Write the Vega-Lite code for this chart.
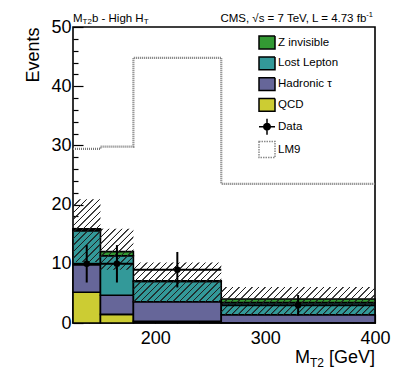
{
 "$schema": "https://vega.github.io/schema/vega-lite/v6.json",
 "width": 302, "height": 296,
 "autosize": {"type": "none"},
 "padding": {"left": 73, "top": 27, "right": 32, "bottom": 68},
 "config": {
  "view": {"stroke": "#000", "strokeWidth": 1.6},
  "font": "Liberation Sans",
  "axis": {"grid": false, "domain": false, "tickColor": "#000", "labelColor": "#000", "titleColor": "#000", "labelFont": "Liberation Sans", "titleFont": "Liberation Sans"},
  "legend": {"padding": 0, "symbolSize": 256, "symbolStrokeWidth": 1.5, "labelFont": "Liberation Sans", "labelFontSize": 11.5, "labelColor": "#000", "labelOffset": 2, "rowPadding": 0.8}
 },
 "datasets": {
  "stack": [
   {"lo": 125, "hi": 150, "series": "QCD", "ord": 1, "n": 5.2},
   {"lo": 125, "hi": 150, "series": "Hadronic τ", "ord": 2, "n": 4.65},
   {"lo": 125, "hi": 150, "series": "Lost Lepton", "ord": 3, "n": 5.75},
   {"lo": 125, "hi": 150, "series": "Z invisible", "ord": 4, "n": 0.3},
   {"lo": 150, "hi": 180, "series": "QCD", "ord": 1, "n": 1.45},
   {"lo": 150, "hi": 180, "series": "Hadronic τ", "ord": 2, "n": 3.25},
   {"lo": 150, "hi": 180, "series": "Lost Lepton", "ord": 3, "n": 6.65},
   {"lo": 150, "hi": 180, "series": "Z invisible", "ord": 4, "n": 0.7},
   {"lo": 180, "hi": 260, "series": "QCD", "ord": 1, "n": 0.27},
   {"lo": 180, "hi": 260, "series": "Hadronic τ", "ord": 2, "n": 3.33},
   {"lo": 180, "hi": 260, "series": "Lost Lepton", "ord": 3, "n": 3.4},
   {"lo": 180, "hi": 260, "series": "Z invisible", "ord": 4, "n": 0.12},
   {"lo": 260, "hi": 400, "series": "QCD", "ord": 1, "n": 0.03},
   {"lo": 260, "hi": 400, "series": "Hadronic τ", "ord": 2, "n": 1.37},
   {"lo": 260, "hi": 400, "series": "Lost Lepton", "ord": 3, "n": 2.05},
   {"lo": 260, "hi": 400, "series": "Z invisible", "ord": 4, "n": 0.6}
  ],
  "band": [
   {"lo": 125, "hi": 150, "down": 10.3, "up": 20.9},
   {"lo": 150, "hi": 180, "down": 9.0, "up": 15.9},
   {"lo": 180, "hi": 260, "down": 3.6, "up": 10.2},
   {"lo": 260, "hi": 400, "down": 1.4, "up": 6.1}
  ],
  "obs": [
   {"lo": 125, "hi": 150, "x": 137.5, "n": 10, "elo": 6.84, "ehi": 13.16},
   {"lo": 150, "hi": 180, "x": 165, "n": 10, "elo": 6.84, "ehi": 13.16},
   {"lo": 180, "hi": 260, "x": 220, "n": 9, "elo": 6, "ehi": 12},
   {"lo": 260, "hi": 400, "x": 330, "n": 3, "elo": 1.27, "ehi": 4.73}
  ],
  "lm9": [
   {"x": 125, "n": 29.4},
   {"x": 150, "n": 29.8},
   {"x": 180, "n": 44.8},
   {"x": 260, "n": 23.5},
   {"x": 400, "n": 23.5}
  ],
  "keys": [
   {"series": "Z invisible"}, {"series": "Lost Lepton"}, {"series": "Hadronic τ"}, {"series": "QCD"}, {"series": "Data"}, {"series": "LM9"}
  ]
 },
 "resolve": {"axis": {"x": "independent", "y": "independent"}},
 "layer": [
  {
   "data": {"name": "stack"},
   "transform": [{"stack": "n", "groupby": ["lo"], "sort": [{"field": "ord", "order": "ascending"}], "as": ["y0", "y1"]}],
   "mark": {"type": "rect", "stroke": "#000", "strokeWidth": 1.6},
   "encoding": {
    "x": {"field": "lo", "type": "quantitative", "scale": {"domain": [125, 400], "nice": false, "zero": false},
          "axis": {"orient": "bottom", "values": [200, 300, 400], "tickSize": -9, "tickWidth": 1.2, "labelFontSize": 18, "labelPadding": 15, "labelFlush": false, "labelOverlap": false, "labelBound": false, "title": null}},
    "x2": {"field": "hi"},
    "y": {"field": "y0", "type": "quantitative", "scale": {"domain": [0, 50], "nice": false},
          "axis": {"orient": "left", "values": [0, 10, 20, 30, 40, 50], "tickSize": -10, "tickWidth": 1.2, "labelFontSize": 18, "labelPadding": 12, "labelFlush": false, "labelOverlap": false, "labelBound": false,
                   "title": "Events", "titleFontSize": 18, "titleFontWeight": "normal", "titleAngle": -90, "titleAlign": "right", "titleBaseline": "alphabetic", "titleX": -35, "titleY": 0}},
    "y2": {"field": "y1"},
    "fill": {"field": "series", "type": "nominal",
             "legend": {"title": null, "orient": "none", "legendX": 185, "legendY": 6.5},
             "scale": {"domain": ["Z invisible", "Lost Lepton", "Hadronic τ", "QCD", "Data", "LM9"], "range": ["#339933", "#339999", "#666699", "#cccc33", "#000000", "#ffffff"]}}
   }
  },
  {
   "data": {"name": "band"},
   "transform": [{"filter": "datum.lo == 125"}],
   "mark": {"type": "rect", "strokeWidth": 0, "fill": {"gradient": "linear", "x1": 0, "y1": 0, "x2": 0.5278, "y2": 1.2066, "stops": [
     {"offset": 0.0687, "color": "rgba(0,0,0,0)"}, {"offset": 0.0754, "color": "#222"}, {"offset": 0.0843, "color": "#222"}, {"offset": 0.0909, "color": "rgba(0,0,0,0)"},
     {"offset": 0.1408, "color": "rgba(0,0,0,0)"}, {"offset": 0.1475, "color": "#222"}, {"offset": 0.1563, "color": "#222"}, {"offset": 0.1630, "color": "rgba(0,0,0,0)"},
     {"offset": 0.2129, "color": "rgba(0,0,0,0)"}, {"offset": 0.2195, "color": "#222"}, {"offset": 0.2284, "color": "#222"}, {"offset": 0.2350, "color": "rgba(0,0,0,0)"},
     {"offset": 0.2849, "color": "rgba(0,0,0,0)"}, {"offset": 0.2916, "color": "#222"}, {"offset": 0.3004, "color": "#222"}, {"offset": 0.3071, "color": "rgba(0,0,0,0)"},
     {"offset": 0.3570, "color": "rgba(0,0,0,0)"}, {"offset": 0.3636, "color": "#222"}, {"offset": 0.3725, "color": "#222"}, {"offset": 0.3792, "color": "rgba(0,0,0,0)"},
     {"offset": 0.4290, "color": "rgba(0,0,0,0)"}, {"offset": 0.4357, "color": "#222"}, {"offset": 0.4446, "color": "#222"}, {"offset": 0.4512, "color": "rgba(0,0,0,0)"},
     {"offset": 0.5011, "color": "rgba(0,0,0,0)"}, {"offset": 0.5078, "color": "#222"}, {"offset": 0.5166, "color": "#222"}, {"offset": 0.5233, "color": "rgba(0,0,0,0)"},
     {"offset": 0.5732, "color": "rgba(0,0,0,0)"}, {"offset": 0.5798, "color": "#222"}, {"offset": 0.5887, "color": "#222"}, {"offset": 0.5953, "color": "rgba(0,0,0,0)"},
     {"offset": 0.6452, "color": "rgba(0,0,0,0)"}, {"offset": 0.6519, "color": "#222"}, {"offset": 0.6608, "color": "#222"}, {"offset": 0.6674, "color": "rgba(0,0,0,0)"},
     {"offset": 0.7173, "color": "rgba(0,0,0,0)"}, {"offset": 0.7239, "color": "#222"}, {"offset": 0.7328, "color": "#222"}, {"offset": 0.7395, "color": "rgba(0,0,0,0)"},
     {"offset": 0.7894, "color": "rgba(0,0,0,0)"}, {"offset": 0.7960, "color": "#222"}, {"offset": 0.8049, "color": "#222"}, {"offset": 0.8115, "color": "rgba(0,0,0,0)"},
     {"offset": 0.8614, "color": "rgba(0,0,0,0)"}, {"offset": 0.8681, "color": "#222"}, {"offset": 0.8769, "color": "#222"}, {"offset": 0.8836, "color": "rgba(0,0,0,0)"},
     {"offset": 0.9335, "color": "rgba(0,0,0,0)"}, {"offset": 0.9401, "color": "#222"}, {"offset": 0.9490, "color": "#222"}, {"offset": 0.9557, "color": "rgba(0,0,0,0)"}
   ]}},
   "encoding": {
    "x": {"field": "lo", "type": "quantitative", "axis": null}, "x2": {"field": "hi"},
    "y": {"field": "down", "type": "quantitative", "axis": null}, "y2": {"field": "up"}
   }
  },
  {
   "data": {"name": "band"},
   "transform": [{"filter": "datum.lo == 150"}],
   "mark": {"type": "rect", "strokeWidth": 0, "fill": {"gradient": "linear", "x1": 0, "y1": 0, "x2": 0.8829, "y2": 1.0945, "stops": [
     {"offset": 0.0149, "color": "rgba(0,0,0,0)"}, {"offset": 0.0230, "color": "#222"}, {"offset": 0.0339, "color": "#222"}, {"offset": 0.0420, "color": "rgba(0,0,0,0)"},
     {"offset": 0.1030, "color": "rgba(0,0,0,0)"}, {"offset": 0.1111, "color": "#222"}, {"offset": 0.1220, "color": "#222"}, {"offset": 0.1301, "color": "rgba(0,0,0,0)"},
     {"offset": 0.1911, "color": "rgba(0,0,0,0)"}, {"offset": 0.1992, "color": "#222"}, {"offset": 0.2100, "color": "#222"}, {"offset": 0.2182, "color": "rgba(0,0,0,0)"},
     {"offset": 0.2791, "color": "rgba(0,0,0,0)"}, {"offset": 0.2873, "color": "#222"}, {"offset": 0.2981, "color": "#222"}, {"offset": 0.3062, "color": "rgba(0,0,0,0)"},
     {"offset": 0.3672, "color": "rgba(0,0,0,0)"}, {"offset": 0.3753, "color": "#222"}, {"offset": 0.3862, "color": "#222"}, {"offset": 0.3943, "color": "rgba(0,0,0,0)"},
     {"offset": 0.4553, "color": "rgba(0,0,0,0)"}, {"offset": 0.4634, "color": "#222"}, {"offset": 0.4743, "color": "#222"}, {"offset": 0.4824, "color": "rgba(0,0,0,0)"},
     {"offset": 0.5434, "color": "rgba(0,0,0,0)"}, {"offset": 0.5515, "color": "#222"}, {"offset": 0.5623, "color": "#222"}, {"offset": 0.5705, "color": "rgba(0,0,0,0)"},
     {"offset": 0.6314, "color": "rgba(0,0,0,0)"}, {"offset": 0.6396, "color": "#222"}, {"offset": 0.6504, "color": "#222"}, {"offset": 0.6585, "color": "rgba(0,0,0,0)"},
     {"offset": 0.7195, "color": "rgba(0,0,0,0)"}, {"offset": 0.7276, "color": "#222"}, {"offset": 0.7385, "color": "#222"}, {"offset": 0.7466, "color": "rgba(0,0,0,0)"},
     {"offset": 0.8076, "color": "rgba(0,0,0,0)"}, {"offset": 0.8157, "color": "#222"}, {"offset": 0.8266, "color": "#222"}, {"offset": 0.8347, "color": "rgba(0,0,0,0)"},
     {"offset": 0.8957, "color": "rgba(0,0,0,0)"}, {"offset": 0.9038, "color": "#222"}, {"offset": 0.9146, "color": "#222"}, {"offset": 0.9228, "color": "rgba(0,0,0,0)"}
   ]}},
   "encoding": {
    "x": {"field": "lo", "type": "quantitative", "axis": null}, "x2": {"field": "hi"},
    "y": {"field": "down", "type": "quantitative", "axis": null}, "y2": {"field": "up"}
   }
  },
  {
   "data": {"name": "band"},
   "transform": [{"filter": "datum.lo == 180"}],
   "mark": {"type": "rect", "strokeWidth": 0, "fill": {"gradient": "linear", "x1": 0, "y1": 0, "x2": 1.2062, "y2": 0.5364, "stops": [
     {"offset": 0.0473, "color": "rgba(0,0,0,0)"}, {"offset": 0.0520, "color": "#222"}, {"offset": 0.0583, "color": "#222"}, {"offset": 0.0630, "color": "rgba(0,0,0,0)"},
     {"offset": 0.0985, "color": "rgba(0,0,0,0)"}, {"offset": 0.1032, "color": "#222"}, {"offset": 0.1095, "color": "#222"}, {"offset": 0.1142, "color": "rgba(0,0,0,0)"},
     {"offset": 0.1497, "color": "rgba(0,0,0,0)"}, {"offset": 0.1544, "color": "#222"}, {"offset": 0.1607, "color": "#222"}, {"offset": 0.1654, "color": "rgba(0,0,0,0)"},
     {"offset": 0.2009, "color": "rgba(0,0,0,0)"}, {"offset": 0.2056, "color": "#222"}, {"offset": 0.2119, "color": "#222"}, {"offset": 0.2167, "color": "rgba(0,0,0,0)"},
     {"offset": 0.2521, "color": "rgba(0,0,0,0)"}, {"offset": 0.2568, "color": "#222"}, {"offset": 0.2631, "color": "#222"}, {"offset": 0.2679, "color": "rgba(0,0,0,0)"},
     {"offset": 0.3033, "color": "rgba(0,0,0,0)"}, {"offset": 0.3080, "color": "#222"}, {"offset": 0.3144, "color": "#222"}, {"offset": 0.3191, "color": "rgba(0,0,0,0)"},
     {"offset": 0.3545, "color": "rgba(0,0,0,0)"}, {"offset": 0.3593, "color": "#222"}, {"offset": 0.3656, "color": "#222"}, {"offset": 0.3703, "color": "rgba(0,0,0,0)"},
     {"offset": 0.4057, "color": "rgba(0,0,0,0)"}, {"offset": 0.4105, "color": "#222"}, {"offset": 0.4168, "color": "#222"}, {"offset": 0.4215, "color": "rgba(0,0,0,0)"},
     {"offset": 0.4569, "color": "rgba(0,0,0,0)"}, {"offset": 0.4617, "color": "#222"}, {"offset": 0.4680, "color": "#222"}, {"offset": 0.4727, "color": "rgba(0,0,0,0)"},
     {"offset": 0.5082, "color": "rgba(0,0,0,0)"}, {"offset": 0.5129, "color": "#222"}, {"offset": 0.5192, "color": "#222"}, {"offset": 0.5239, "color": "rgba(0,0,0,0)"},
     {"offset": 0.5594, "color": "rgba(0,0,0,0)"}, {"offset": 0.5641, "color": "#222"}, {"offset": 0.5704, "color": "#222"}, {"offset": 0.5751, "color": "rgba(0,0,0,0)"},
     {"offset": 0.6106, "color": "rgba(0,0,0,0)"}, {"offset": 0.6153, "color": "#222"}, {"offset": 0.6216, "color": "#222"}, {"offset": 0.6263, "color": "rgba(0,0,0,0)"},
     {"offset": 0.6618, "color": "rgba(0,0,0,0)"}, {"offset": 0.6665, "color": "#222"}, {"offset": 0.6728, "color": "#222"}, {"offset": 0.6775, "color": "rgba(0,0,0,0)"},
     {"offset": 0.7130, "color": "rgba(0,0,0,0)"}, {"offset": 0.7177, "color": "#222"}, {"offset": 0.7240, "color": "#222"}, {"offset": 0.7288, "color": "rgba(0,0,0,0)"},
     {"offset": 0.7642, "color": "rgba(0,0,0,0)"}, {"offset": 0.7689, "color": "#222"}, {"offset": 0.7752, "color": "#222"}, {"offset": 0.7800, "color": "rgba(0,0,0,0)"},
     {"offset": 0.8154, "color": "rgba(0,0,0,0)"}, {"offset": 0.8201, "color": "#222"}, {"offset": 0.8265, "color": "#222"}, {"offset": 0.8312, "color": "rgba(0,0,0,0)"},
     {"offset": 0.8666, "color": "rgba(0,0,0,0)"}, {"offset": 0.8713, "color": "#222"}, {"offset": 0.8777, "color": "#222"}, {"offset": 0.8824, "color": "rgba(0,0,0,0)"},
     {"offset": 0.9178, "color": "rgba(0,0,0,0)"}, {"offset": 0.9226, "color": "#222"}, {"offset": 0.9289, "color": "#222"}, {"offset": 0.9336, "color": "rgba(0,0,0,0)"},
     {"offset": 0.9690, "color": "rgba(0,0,0,0)"}, {"offset": 0.9738, "color": "#222"}, {"offset": 0.9801, "color": "#222"}, {"offset": 0.9848, "color": "rgba(0,0,0,0)"}
   ]}},
   "encoding": {
    "x": {"field": "lo", "type": "quantitative", "axis": null}, "x2": {"field": "hi"},
    "y": {"field": "down", "type": "quantitative", "axis": null}, "y2": {"field": "up"}
   }
  },
  {
   "data": {"name": "band"},
   "transform": [{"filter": "datum.lo == 260"}],
   "mark": {"type": "rect", "strokeWidth": 0, "fill": {"gradient": "linear", "x1": 0, "y1": 0, "x2": 1.1424, "y2": 0.2046, "stops": [
     {"offset": 0.0237, "color": "rgba(0,0,0,0)"}, {"offset": 0.0270, "color": "#222"}, {"offset": 0.0314, "color": "#222"}, {"offset": 0.0348, "color": "rgba(0,0,0,0)"},
     {"offset": 0.0596, "color": "rgba(0,0,0,0)"}, {"offset": 0.0629, "color": "#222"}, {"offset": 0.0673, "color": "#222"}, {"offset": 0.0706, "color": "rgba(0,0,0,0)"},
     {"offset": 0.0954, "color": "rgba(0,0,0,0)"}, {"offset": 0.0987, "color": "#222"}, {"offset": 0.1032, "color": "#222"}, {"offset": 0.1065, "color": "rgba(0,0,0,0)"},
     {"offset": 0.1313, "color": "rgba(0,0,0,0)"}, {"offset": 0.1346, "color": "#222"}, {"offset": 0.1390, "color": "#222"}, {"offset": 0.1423, "color": "rgba(0,0,0,0)"},
     {"offset": 0.1671, "color": "rgba(0,0,0,0)"}, {"offset": 0.1705, "color": "#222"}, {"offset": 0.1749, "color": "#222"}, {"offset": 0.1782, "color": "rgba(0,0,0,0)"},
     {"offset": 0.2030, "color": "rgba(0,0,0,0)"}, {"offset": 0.2063, "color": "#222"}, {"offset": 0.2107, "color": "#222"}, {"offset": 0.2140, "color": "rgba(0,0,0,0)"},
     {"offset": 0.2389, "color": "rgba(0,0,0,0)"}, {"offset": 0.2422, "color": "#222"}, {"offset": 0.2466, "color": "#222"}, {"offset": 0.2499, "color": "rgba(0,0,0,0)"},
     {"offset": 0.2747, "color": "rgba(0,0,0,0)"}, {"offset": 0.2780, "color": "#222"}, {"offset": 0.2824, "color": "#222"}, {"offset": 0.2857, "color": "rgba(0,0,0,0)"},
     {"offset": 0.3106, "color": "rgba(0,0,0,0)"}, {"offset": 0.3139, "color": "#222"}, {"offset": 0.3183, "color": "#222"}, {"offset": 0.3216, "color": "rgba(0,0,0,0)"},
     {"offset": 0.3464, "color": "rgba(0,0,0,0)"}, {"offset": 0.3497, "color": "#222"}, {"offset": 0.3541, "color": "#222"}, {"offset": 0.3575, "color": "rgba(0,0,0,0)"},
     {"offset": 0.3823, "color": "rgba(0,0,0,0)"}, {"offset": 0.3856, "color": "#222"}, {"offset": 0.3900, "color": "#222"}, {"offset": 0.3933, "color": "rgba(0,0,0,0)"},
     {"offset": 0.4181, "color": "rgba(0,0,0,0)"}, {"offset": 0.4215, "color": "#222"}, {"offset": 0.4259, "color": "#222"}, {"offset": 0.4292, "color": "rgba(0,0,0,0)"},
     {"offset": 0.4540, "color": "rgba(0,0,0,0)"}, {"offset": 0.4573, "color": "#222"}, {"offset": 0.4617, "color": "#222"}, {"offset": 0.4650, "color": "rgba(0,0,0,0)"},
     {"offset": 0.4898, "color": "rgba(0,0,0,0)"}, {"offset": 0.4932, "color": "#222"}, {"offset": 0.4976, "color": "#222"}, {"offset": 0.5009, "color": "rgba(0,0,0,0)"},
     {"offset": 0.5257, "color": "rgba(0,0,0,0)"}, {"offset": 0.5290, "color": "#222"}, {"offset": 0.5334, "color": "#222"}, {"offset": 0.5367, "color": "rgba(0,0,0,0)"},
     {"offset": 0.5616, "color": "rgba(0,0,0,0)"}, {"offset": 0.5649, "color": "#222"}, {"offset": 0.5693, "color": "#222"}, {"offset": 0.5726, "color": "rgba(0,0,0,0)"},
     {"offset": 0.5974, "color": "rgba(0,0,0,0)"}, {"offset": 0.6007, "color": "#222"}, {"offset": 0.6051, "color": "#222"}, {"offset": 0.6085, "color": "rgba(0,0,0,0)"},
     {"offset": 0.6333, "color": "rgba(0,0,0,0)"}, {"offset": 0.6366, "color": "#222"}, {"offset": 0.6410, "color": "#222"}, {"offset": 0.6443, "color": "rgba(0,0,0,0)"},
     {"offset": 0.6691, "color": "rgba(0,0,0,0)"}, {"offset": 0.6724, "color": "#222"}, {"offset": 0.6768, "color": "#222"}, {"offset": 0.6802, "color": "rgba(0,0,0,0)"},
     {"offset": 0.7050, "color": "rgba(0,0,0,0)"}, {"offset": 0.7083, "color": "#222"}, {"offset": 0.7127, "color": "#222"}, {"offset": 0.7160, "color": "rgba(0,0,0,0)"},
     {"offset": 0.7408, "color": "rgba(0,0,0,0)"}, {"offset": 0.7441, "color": "#222"}, {"offset": 0.7486, "color": "#222"}, {"offset": 0.7519, "color": "rgba(0,0,0,0)"},
     {"offset": 0.7767, "color": "rgba(0,0,0,0)"}, {"offset": 0.7800, "color": "#222"}, {"offset": 0.7844, "color": "#222"}, {"offset": 0.7877, "color": "rgba(0,0,0,0)"},
     {"offset": 0.8125, "color": "rgba(0,0,0,0)"}, {"offset": 0.8159, "color": "#222"}, {"offset": 0.8203, "color": "#222"}, {"offset": 0.8236, "color": "rgba(0,0,0,0)"},
     {"offset": 0.8484, "color": "rgba(0,0,0,0)"}, {"offset": 0.8517, "color": "#222"}, {"offset": 0.8561, "color": "#222"}, {"offset": 0.8594, "color": "rgba(0,0,0,0)"},
     {"offset": 0.8843, "color": "rgba(0,0,0,0)"}, {"offset": 0.8876, "color": "#222"}, {"offset": 0.8920, "color": "#222"}, {"offset": 0.8953, "color": "rgba(0,0,0,0)"},
     {"offset": 0.9201, "color": "rgba(0,0,0,0)"}, {"offset": 0.9234, "color": "#222"}, {"offset": 0.9278, "color": "#222"}, {"offset": 0.9312, "color": "rgba(0,0,0,0)"},
     {"offset": 0.9560, "color": "rgba(0,0,0,0)"}, {"offset": 0.9593, "color": "#222"}, {"offset": 0.9637, "color": "#222"}, {"offset": 0.9670, "color": "rgba(0,0,0,0)"}
   ]}},
   "encoding": {
    "x": {"field": "lo", "type": "quantitative", "axis": null}, "x2": {"field": "hi"},
    "y": {"field": "down", "type": "quantitative", "axis": null}, "y2": {"field": "up"}
   }
  },
  {
   "data": {"name": "obs"},
   "mark": {"type": "rule", "color": "#000", "strokeWidth": 2},
   "encoding": {
    "x": {"field": "x", "type": "quantitative", "axis": null},
    "y": {"field": "elo", "type": "quantitative", "axis": null}, "y2": {"field": "ehi"}
   }
  },
  {
   "data": {"name": "obs"},
   "mark": {"type": "rule", "color": "#000", "strokeWidth": 2},
   "encoding": {
    "x": {"field": "lo", "type": "quantitative", "axis": null}, "x2": {"field": "hi"},
    "y": {"field": "n", "type": "quantitative", "axis": null}
   }
  },
  {
   "data": {"name": "obs"},
   "mark": {"type": "point", "shape": "circle", "filled": true, "color": "#000", "opacity": 1, "size": 42},
   "encoding": {
    "x": {"field": "x", "type": "quantitative", "axis": null},
    "y": {"field": "n", "type": "quantitative", "axis": null}
   }
  },
  {
   "data": {"name": "lm9"},
   "mark": {"type": "line", "interpolate": "step-after", "color": "#777777", "strokeWidth": 2.2, "strokeDash": [1, 1]},
   "encoding": {
    "x": {"field": "x", "type": "quantitative",
          "axis": {"orient": "bottom", "values": [140, 160, 180, 220, 240, 260, 280, 320, 340, 360, 380], "tickSize": -4.5, "tickWidth": 1.2, "labels": false, "title": null}},
    "y": {"field": "n", "type": "quantitative",
          "axis": {"orient": "left", "values": [2, 4, 6, 8, 12, 14, 16, 18, 22, 24, 26, 28, 32, 34, 36, 38, 42, 44, 46, 48], "tickSize": -5, "tickWidth": 1.2, "labels": false, "title": null}}
   }
  },
  {
   "data": {"name": "keys"},
   "transform": [{"filter": "false"}],
   "mark": {"type": "point", "filled": true, "opacity": 1, "strokeWidth": 1.5},
   "encoding": {
    "fill": {"field": "series", "type": "nominal",
             "legend": {"title": null, "orient": "none", "legendX": 185, "legendY": 6.5},
             "scale": {"domain": ["Z invisible", "Lost Lepton", "Hadronic τ", "QCD", "Data", "LM9"], "range": ["#339933", "#339999", "#666699", "#cccc33", "#000000", "#ffffff"]}},
    "shape": {"field": "series", "type": "nominal",
              "legend": {"title": null, "orient": "none", "legendX": 185, "legendY": 6.5},
              "scale": {"domain": ["Z invisible", "Lost Lepton", "Hadronic τ", "QCD", "Data", "LM9"], "range": ["M-1,-0.8H1V0.8H-1Z", "M-1,-0.8H1V0.8H-1Z", "M-1,-0.8H1V0.8H-1Z", "M-1,-0.8H1V0.8H-1Z", "M-1,0H1M0,-1V1M-0.4,0A0.4,0.4,0,1,1,0.4,0A0.4,0.4,0,1,1,-0.4,0Z", "M-1,-1H1V1H-1Z"]}},
    "stroke": {"field": "series", "type": "nominal",
               "legend": {"title": null, "orient": "none", "legendX": 185, "legendY": 6.5},
               "scale": {"domain": ["Z invisible", "Lost Lepton", "Hadronic τ", "QCD", "Data", "LM9"], "range": ["#000000", "#000000", "#000000", "#000000", "#000000", "#8a8a8a"]}},
    "strokeDash": {"field": "series", "type": "nominal",
                   "legend": {"title": null, "orient": "none", "legendX": 185, "legendY": 6.5},
                   "scale": {"domain": ["Z invisible", "Lost Lepton", "Hadronic τ", "QCD", "Data", "LM9"], "range": [[1, 0], [1, 0], [1, 0], [1, 0], [1, 0], [1.5, 1]]}}
   }
  },
  {
   "data": {"values": [{}]},
   "mark": {"type": "text", "text": "[GeV]", "align": "right", "baseline": "alphabetic", "dy": 40, "fontSize": 18, "color": "#000"},
   "encoding": {"x": {"datum": 400, "type": "quantitative", "axis": null}, "y": {"datum": 0, "type": "quantitative", "axis": null}}
  },
  {
   "data": {"values": [{}]},
   "mark": {"type": "text", "text": "T2", "align": "right", "baseline": "alphabetic", "dx": -51, "dy": 44, "fontSize": 12, "color": "#000"},
   "encoding": {"x": {"datum": 400, "type": "quantitative", "axis": null}, "y": {"datum": 0, "type": "quantitative", "axis": null}}
  },
  {
   "data": {"values": [{}]},
   "mark": {"type": "text", "text": "M", "align": "right", "baseline": "alphabetic", "dx": -65, "dy": 40, "fontSize": 18, "color": "#000"},
   "encoding": {"x": {"datum": 400, "type": "quantitative", "axis": null}, "y": {"datum": 0, "type": "quantitative", "axis": null}}
  },
  {
   "data": {"values": [{}]},
   "mark": {"type": "text", "text": "M", "align": "left", "baseline": "alphabetic", "dx": 0, "dy": -5.5, "fontSize": 11.5, "color": "#000"},
   "encoding": {"x": {"datum": 125, "type": "quantitative", "axis": null}, "y": {"datum": 50, "type": "quantitative", "axis": null}}
  },
  {
   "data": {"values": [{}]},
   "mark": {"type": "text", "text": "T2", "align": "left", "baseline": "alphabetic", "dx": 9.6, "dy": -3, "fontSize": 8, "color": "#000"},
   "encoding": {"x": {"datum": 125, "type": "quantitative", "axis": null}, "y": {"datum": 50, "type": "quantitative", "axis": null}}
  },
  {
   "data": {"values": [{}]},
   "mark": {"type": "text", "text": "b - High H", "align": "left", "baseline": "alphabetic", "dx": 18.9, "dy": -5.5, "fontSize": 11.5, "color": "#000"},
   "encoding": {"x": {"datum": 125, "type": "quantitative", "axis": null}, "y": {"datum": 50, "type": "quantitative", "axis": null}}
  },
  {
   "data": {"values": [{}]},
   "mark": {"type": "text", "text": "T", "align": "left", "baseline": "alphabetic", "dx": 70.7, "dy": -3, "fontSize": 8, "color": "#000"},
   "encoding": {"x": {"datum": 125, "type": "quantitative", "axis": null}, "y": {"datum": 50, "type": "quantitative", "axis": null}}
  },
  {
   "data": {"values": [{}]},
   "mark": {"type": "text", "text": "CMS, √s = 7 TeV, L = 4.73 fb", "align": "right", "baseline": "alphabetic", "dx": -8.7, "dy": -5.5, "fontSize": 11.5, "color": "#000"},
   "encoding": {"x": {"datum": 400, "type": "quantitative", "axis": null}, "y": {"datum": 50, "type": "quantitative", "axis": null}}
  },
  {
   "data": {"values": [{}]},
   "mark": {"type": "text", "text": "-1", "align": "right", "baseline": "alphabetic", "dx": -2, "dy": -10, "fontSize": 7.5, "color": "#000"},
   "encoding": {"x": {"datum": 400, "type": "quantitative", "axis": null}, "y": {"datum": 50, "type": "quantitative", "axis": null}}
  }
 ]
}
